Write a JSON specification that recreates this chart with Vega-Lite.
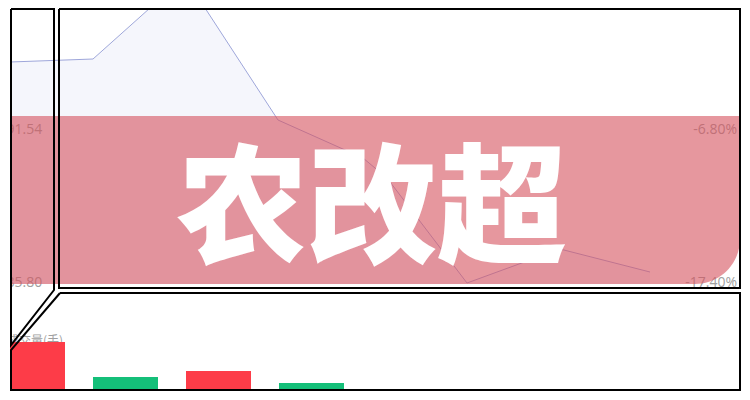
{
  "$schema": "https://vega.github.io/schema/vega-lite/v6.json",
  "width": 730,
  "height": 381,
  "autosize": {"type": "none"},
  "padding": {"left": 10, "right": 10, "top": 9, "bottom": 10},
  "background": "white",
  "config": {"view": {"stroke": null}, "scale": {"continuousPadding": 0}},
  "datasets": {
    "price": [
      {"t": 10, "p": 94.075},
      {"t": 93, "p": 94.1875},
      {"t": 150, "p": 96.1},
      {"t": 205, "p": 96.1},
      {"t": 278, "p": 91.9},
      {"t": 363, "p": 90.475},
      {"t": 387, "p": 89.725},
      {"t": 467, "p": 85.7875},
      {"t": 560, "p": 87.0625},
      {"t": 650, "p": 86.2}
    ],
    "volume": [
      {"t": 32.5, "vol": 48000, "dir": "up"},
      {"t": 125.5, "vol": 13000, "dir": "down"},
      {"t": 218.5, "vol": 19000, "dir": "up"},
      {"t": 311.5, "vol": 7000, "dir": "down"}
    ],
    "leftLabels": [
      {"t": 6.5, "p": 91.525, "label": "91.54"},
      {"t": 6.5, "p": 85.79, "label": "85.80"}
    ],
    "rightLabels": [
      {"t": 737, "p": 91.525, "label": "-6.80%"},
      {"t": 737, "p": 85.79, "label": "-17.40%"}
    ],
    "band": [{"t": 10, "t2": 740, "p": 92.05, "p2": 85.75}],
    "title": [{"t": 372, "p": 88.36, "label": "农改超"}],
    "volLabel": [{"t": 7, "p": 83.6, "label": "成交量(手)"}],
    "frames": [
      {"shape": "left", "k": 0, "t": 11, "p": 96.0625},
      {"shape": "left", "k": 1, "t": 54, "p": 96.0625},
      {"shape": "left", "k": 2, "t": 54, "p": 85.525},
      {"shape": "left", "k": 3, "t": 11, "p": 83.4625},
      {"shape": "left", "k": 4, "t": 11, "p": 96.0625},
      {"shape": "main", "k": 0, "t": 59, "p": 96.0625},
      {"shape": "main", "k": 1, "t": 740, "p": 96.0625},
      {"shape": "main", "k": 2, "t": 740, "p": 85.6},
      {"shape": "main", "k": 3, "t": 59, "p": 85.6},
      {"shape": "main", "k": 4, "t": 59, "p": 96.0625},
      {"shape": "bottom", "k": 0, "t": 60, "p": 85.4125},
      {"shape": "bottom", "k": 1, "t": 740, "p": 85.4125},
      {"shape": "bottom", "k": 2, "t": 740, "p": 81.775},
      {"shape": "bottom", "k": 3, "t": 11, "p": 81.775},
      {"shape": "bottom", "k": 4, "t": 11, "p": 83.275},
      {"shape": "bottom", "k": 5, "t": 60, "p": 85.4125}
    ]
  },
  "resolve": {"scale": {"y": "independent"}},
  "layer": [
    {
      "data": {"name": "price"},
      "mark": {"type": "area", "clip": true, "color": "#f5f6fc", "interpolate": "linear"},
      "encoding": {
        "x": {"field": "t", "type": "quantitative", "scale": {"domain": [10, 740], "nice": false, "zero": false, "padding": 0}, "axis": null},
        "y": {"field": "p", "type": "quantitative", "scale": {"domain": [81.775, 96.0625], "nice": false, "zero": false}, "axis": null},
        "y2": {"datum": 85.75}
      }
    },
    {
      "data": {"name": "price"},
      "mark": {"type": "line", "clip": true, "color": "#9ea6da", "strokeWidth": 1},
      "encoding": {
        "x": {"field": "t", "type": "quantitative", "scale": {"domain": [10, 740], "nice": false, "zero": false, "padding": 0}, "axis": null},
        "y": {"field": "p", "type": "quantitative", "scale": {"domain": [81.775, 96.0625], "nice": false, "zero": false}, "axis": null}
      }
    },
    {
      "data": {"name": "leftLabels"},
      "mark": {"type": "text", "clip": true, "align": "left", "baseline": "middle", "fontSize": 14, "font": "Open Sans", "color": "#a0a0a0"},
      "encoding": {
        "x": {"field": "t", "type": "quantitative", "scale": {"domain": [10, 740], "nice": false, "zero": false, "padding": 0}, "axis": null},
        "y": {"field": "p", "type": "quantitative", "scale": {"domain": [81.775, 96.0625], "nice": false, "zero": false}, "axis": null},
        "text": {"field": "label"}
      }
    },
    {
      "data": {"name": "rightLabels"},
      "mark": {"type": "text", "align": "right", "baseline": "middle", "fontSize": 14, "font": "Open Sans", "color": "#a0a0a0"},
      "encoding": {
        "x": {"field": "t", "type": "quantitative", "scale": {"domain": [10, 740], "nice": false, "zero": false, "padding": 0}, "axis": null},
        "y": {"field": "p", "type": "quantitative", "scale": {"domain": [81.775, 96.0625], "nice": false, "zero": false}, "axis": null},
        "text": {"field": "label"}
      }
    },
    {
      "data": {"name": "volLabel"},
      "mark": {"type": "text", "clip": true, "align": "left", "baseline": "middle", "fontSize": 12, "font": "Noto Sans CJK SC", "color": "#a0a0a0"},
      "encoding": {
        "x": {"field": "t", "type": "quantitative", "scale": {"domain": [10, 740], "nice": false, "zero": false, "padding": 0}, "axis": null},
        "y": {"field": "p", "type": "quantitative", "scale": {"domain": [81.775, 96.0625], "nice": false, "zero": false}, "axis": null},
        "text": {"field": "label"}
      }
    },
    {
      "data": {"name": "band"},
      "mark": {"type": "rect", "color": "#d5525e", "opacity": 0.6, "cornerRadiusBottomRight": 45},
      "encoding": {
        "x": {"field": "t", "type": "quantitative", "scale": {"domain": [10, 740], "nice": false, "zero": false, "padding": 0}, "axis": null},
        "x2": {"field": "t2"},
        "y": {"field": "p", "type": "quantitative", "scale": {"domain": [81.775, 96.0625], "nice": false, "zero": false, "padding": 0}, "axis": null},
        "y2": {"field": "p2"}
      }
    },
    {
      "data": {"name": "title"},
      "mark": {"type": "text", "align": "center", "baseline": "middle", "fontSize": 130, "fontWeight": 900, "font": "Noto Sans CJK SC", "color": "white"},
      "encoding": {
        "x": {"field": "t", "type": "quantitative", "scale": {"domain": [10, 740], "nice": false, "zero": false, "padding": 0}, "axis": null},
        "y": {"field": "p", "type": "quantitative", "scale": {"domain": [81.775, 96.0625], "nice": false, "zero": false}, "axis": null},
        "text": {"field": "label"}
      }
    },
    {
      "data": {"name": "volume"},
      "mark": {"type": "bar", "clip": true, "orient": "vertical", "width": 65},
      "encoding": {
        "x": {"field": "t", "type": "quantitative", "scale": {"domain": [10, 740], "nice": false, "zero": false, "padding": 0}, "axis": null},
        "y": {"field": "vol", "type": "quantitative", "scale": {"domain": [0, 381000], "nice": false, "padding": 0}, "axis": null},
        "color": {"field": "dir", "type": "nominal", "scale": {"domain": ["up", "down"], "range": ["#fd3c48", "#14bf79"]}, "legend": null}
      }
    },
    {
      "data": {"name": "frames"},
      "mark": {"type": "line", "color": "black", "strokeWidth": 2, "strokeJoin": "miter"},
      "encoding": {
        "x": {"field": "t", "type": "quantitative", "scale": {"domain": [10, 740], "nice": false, "zero": false, "padding": 0}, "axis": null},
        "y": {"field": "p", "type": "quantitative", "scale": {"domain": [81.775, 96.0625], "nice": false, "zero": false}, "axis": null},
        "detail": {"field": "shape", "type": "nominal"},
        "order": {"field": "k", "type": "quantitative"}
      }
    }
  ]
}
